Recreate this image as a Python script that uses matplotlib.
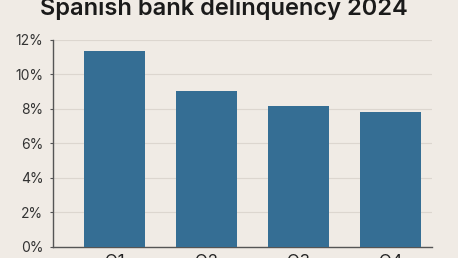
import numpy as np
import matplotlib
matplotlib.use("Agg")
from matplotlib import pyplot as plt

quarters = ["Q1", "Q2", "Q3", "Q4"]
delinquency = [11.35, 9.0, 8.15, 7.8]
yticks = [0, 2, 4, 6, 8, 10, 12]

bg = "#f0ebe5"
bar_color = "#356e94"

plt.rcParams['font.family'] = ['Inter', 'DejaVu Sans']

fig = plt.figure(figsize=(4.58, 2.58), dpi=100, facecolor=bg)
ax = fig.add_axes([0.1157, 0.0438, 0.8273, 0.8023], facecolor=bg)

x = np.arange(len(quarters))
ax.bar(x, delinquency, width=0.66, color=bar_color, zorder=3)

ax.set_xlim(-0.67, 3.45)
ax.set_ylim(0, 12)
ax.set_yticks(yticks)
ax.set_yticklabels([f"{v}%" for v in yticks], fontsize=10, color="#333333")
ax.set_xticks(x)
ax.set_xticklabels(quarters, fontsize=12, color="#222222")
ax.tick_params(axis='y', length=2, width=0.8, color="#555555", pad=5)
ax.tick_params(axis='x', length=0, pad=5)
ax.grid(axis='y', color="#dcd6cf", linewidth=0.8, zorder=0)

for side in ['top', 'right']:
    ax.spines[side].set_visible(False)
for side in ['left', 'bottom']:
    ax.spines[side].set_color("#555555")
    ax.spines[side].set_linewidth(1.0)

fig.text(0.489, 0.94, "Spanish bank delinquency 2024", ha='center', va='baseline',
         fontsize=17, fontweight='semibold', color="#1a1a1a")

fig.savefig("out.png", dpi=100, facecolor=bg)
